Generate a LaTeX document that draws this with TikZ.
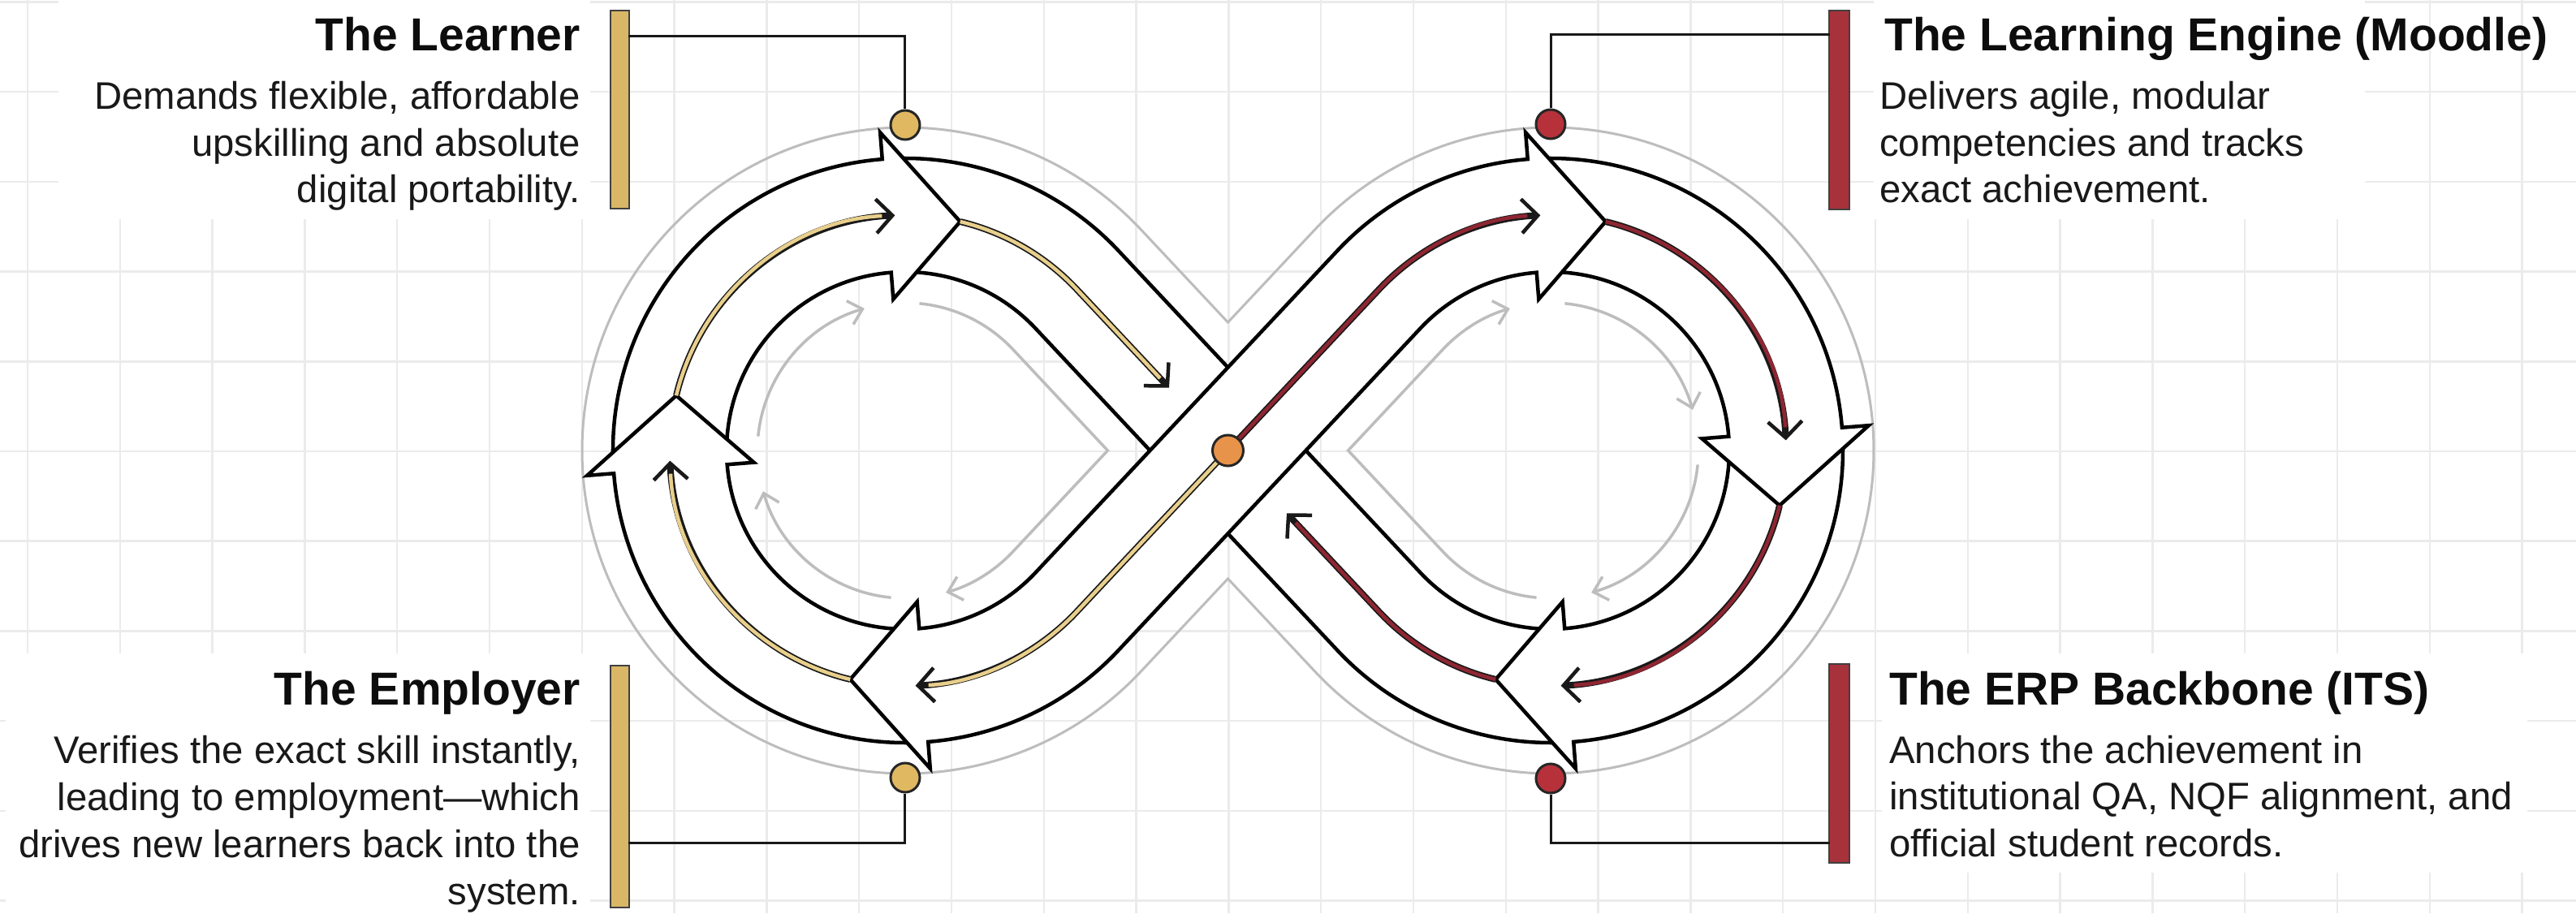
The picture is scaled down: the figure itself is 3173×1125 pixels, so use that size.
\documentclass[tikz,border=0pt]{standalone}
\usepackage{fontspec}
\setmainfont{Liberation Sans}
\usetikzlibrary{calc,arrows.meta}
\definecolor{goldbar}{HTML}{D9B766}
\definecolor{redbar}{HTML}{A8323B}
\definecolor{golddot}{HTML}{E0B862}
\definecolor{reddot}{HTML}{B7313B}
\definecolor{orangedot}{HTML}{E8934A}
\definecolor{yline}{HTML}{E8CF8C}
\definecolor{rline}{HTML}{8E2632}
\definecolor{gridc}{HTML}{EBEBEB}
\definecolor{ghost}{HTML}{BDBDBD}
\newcommand\colarrow[2]{%
  \draw[line width=8pt,black!90,-{Straight Barb[length=20pt,width=42pt,line width=4.5pt]}] #2;
  \draw[line width=4.5pt,#1,shorten >=16pt] #2;}
\begin{document}
\begin{tikzpicture}[x=1pt,y=1pt,
  band/.style={draw=black,line width=4.5pt,fill=white,line join=miter},
  ghostline/.style={draw=ghost,line width=3pt},
  ghostarrow/.style={draw=ghost,line width=3.5pt,-{Straight Barb[length=16pt,width=30pt,line width=3.5pt]}},
  gridline/.style={draw=gridc,line width=2.5pt},
  title/.style={font=\fontsize{57}{64}\selectfont\bfseries,inner sep=0pt,text=black!95},
  body/.style={font=\fontsize{47.3}{57}\selectfont,inner sep=0pt,text=black!90},
  bar/.style={draw=black!75,line width=2pt,inner sep=0pt},
  dot/.style={circle,draw=black!85,line width=3pt,inner sep=0pt,minimum size=36pt},
  conn/.style={draw=black!90,line width=3pt}
]
\useasboundingbox (-1512.5,-570) rectangle (1660.5,555);
\fill[white] (-1512.5,-570) rectangle (1660.5,555);
% grid
\foreach \k in {0,...,27} \draw[gridline] ({-1478.5+113.8*\k},-570) -- ({-1478.5+113.8*\k},555);
\foreach \k in {-5,...,5} \draw[gridline] (-1512.5,{-1+110.7*\k}) -- (1660.5,{-1+110.7*\k});
% white behind text blocks
\fill[white] (-1440,285) rectangle (-785,555);
\fill[white] (-1505,-570) rectangle (-785,-250);
\fill[white] (795,285) rectangle (1400,555);
\fill[white] (805,-520) rectangle (1600,-250);

\coordinate (X) at (0,0);
\coordinate (CL) at (-397.5,0);
\coordinate (CR) at (397.5,0);
\coordinate (PL) at (-148.1,0);
\coordinate (PR) at (148.1,0);
\coordinate (VT) at (0,157.9);
\coordinate (VB) at (0,-157.9);
\coordinate (ye) at (-72.5,77.3);
\coordinate (re) at (72.5,-77.3);

% outer ghost outline
\draw[ghostline,line join=miter] ($(CL)+(43.15:398)$) arc[start angle=43.15,end angle=316.85,radius=398]
  -- (VB) -- ($(CR)+(223.15:398)$) arc[start angle=-136.85,end angle=136.85,radius=398]
  -- (VT) -- cycle;

% inner ghost arrows
\draw[ghostarrow] ($(CL)+(174.5:182)$) arc[start angle=174.5,end angle=106,radius=182];
\draw[ghostarrow,line join=miter] ($(CL)+(84.5:182)$) arc[start angle=84.5,end angle=43.15,radius=182]
  -- (PL) -- ($(CL)+(316.85:182)$) arc[start angle=316.85,end angle=286,radius=182];
\draw[ghostarrow] ($(CL)+(264.5:182)$) arc[start angle=264.5,end angle=196,radius=182];
\draw[ghostarrow] ($(CR)+(84.5:182)$) arc[start angle=84.5,end angle=16,radius=182];
\draw[ghostarrow] ($(CR)+(-5.5:182)$) arc[start angle=-5.5,end angle=-74,radius=182];
\draw[ghostarrow,line join=miter] ($(CR)+(264.5:182)$) arc[start angle=264.5,end angle=223.15,radius=182]
  -- (PR) -- ($(CR)+(136.85:182)$) arc[start angle=136.85,end angle=106,radius=182];

% bands: U (under diagonal)
\draw[band] ($(CL)+(90:360)$) arc[start angle=90,end angle=43.15,radius=360]
  -- ($(CR)+(223.15:220)$) arc[start angle=223.15,end angle=270,radius=220]
  -- ($(CR)+(270:360)$) arc[start angle=270,end angle=223.15,radius=360]
  -- ($(CL)+(43.15:220)$) arc[start angle=43.15,end angle=90,radius=220] -- cycle;
% L3
\draw[band] ($(CL)+(180:360)$) arc[start angle=180,end angle=94.5,radius=360]
  -- ($(CL)+(94.5:393)$) -- ($(CL)+(76.5:290)$) -- ($(CL)+(94.5:187)$)
  -- ($(CL)+(94.5:220)$) arc[start angle=94.5,end angle=180,radius=220] -- cycle;
% L2
\draw[band] ($(CL)+(270:360)$) arc[start angle=270,end angle=184.5,radius=360]
  -- ($(CL)+(184.5:393)$) -- ($(CL)+(166.5:290)$) -- ($(CL)+(184.5:187)$)
  -- ($(CL)+(184.5:220)$) arc[start angle=184.5,end angle=270,radius=220] -- cycle;
% R3
\draw[band] ($(CR)+(0:360)$) arc[start angle=0,end angle=-85.5,radius=360]
  -- ($(CR)+(-85.5:393)$) -- ($(CR)+(-103.5:290)$) -- ($(CR)+(-85.5:187)$)
  -- ($(CR)+(-85.5:220)$) arc[start angle=-85.5,end angle=0,radius=220] -- cycle;
% R2
\draw[band] ($(CR)+(90:360)$) arc[start angle=90,end angle=4.5,radius=360]
  -- ($(CR)+(4.5:393)$) -- ($(CR)+(-13.5:290)$) -- ($(CR)+(4.5:187)$)
  -- ($(CR)+(4.5:220)$) arc[start angle=4.5,end angle=90,radius=220] -- cycle;
% O (over diagonal, two heads)
\draw[band] ($(CL)+(256.5:290)$) -- ($(CL)+(274.5:393)$) -- ($(CL)+(274.5:360)$)
  arc[start angle=274.5,end angle=316.85,radius=360]
  -- ($(CR)+(136.85:220)$) arc[start angle=136.85,end angle=94.5,radius=220]
  -- ($(CR)+(94.5:187)$) -- ($(CR)+(76.5:290)$) -- ($(CR)+(94.5:393)$)
  -- ($(CR)+(94.5:360)$) arc[start angle=94.5,end angle=136.85,radius=360]
  -- ($(CL)+(316.85:220)$) arc[start angle=316.85,end angle=274.5,radius=220]
  -- ($(CL)+(274.5:187)$) -- cycle;

% coloured flow arrows
\colarrow{yline}{($(CL)+(256.5:290)$) arc[start angle=256.5,end angle=182.5,radius=290]}
\colarrow{yline}{($(CL)+(166.5:290)$) arc[start angle=166.5,end angle=92.5,radius=290]}
\colarrow{yline}{($(CL)+(76.5:290)$) arc[start angle=76.5,end angle=43.15,radius=290] -- (ye)}
\colarrow{yline}{(X) -- ($(CL)+(316.85:290)$) arc[start angle=316.85,end angle=272.5,radius=290]}
\colarrow{rline}{(X) -- ($(CR)+(136.85:290)$) arc[start angle=136.85,end angle=92.5,radius=290]}
\colarrow{rline}{($(CR)+(76.5:290)$) arc[start angle=76.5,end angle=2.5,radius=290]}
\colarrow{rline}{($(CR)+(-13.5:290)$) arc[start angle=-13.5,end angle=-87.5,radius=290]}
\colarrow{rline}{($(CR)+(256.5:290)$) arc[start angle=256.5,end angle=223.15,radius=290] -- (re)}

% centre dot
\node[dot,fill=orangedot,minimum size=38pt] (dCentre) at (X) {};

% bars
\node[bar,fill=goldbar,minimum width=23pt,minimum height=244pt] (bLearner) at (-749,420) {};
\node[bar,fill=goldbar,minimum width=23pt,minimum height=298pt] (bEmployer) at (-749,-414) {};
\node[bar,fill=redbar,minimum width=25pt,minimum height=245pt] (bMoodle) at (753,419.5) {};
\node[bar,fill=redbar,minimum width=25pt,minimum height=245pt] (bERP) at (753,-385.5) {};

% dots
\node[dot,fill=golddot] (dLearner) at (-397.5,401) {};
\node[dot,fill=golddot] (dEmployer) at (-397.5,-403) {};
\node[dot,fill=reddot] (dMoodle) at (397.5,402) {};
\node[dot,fill=reddot] (dERP) at (397.5,-404) {};

% connectors
\coordinate (kLearner) at (-738.5,510);
\coordinate (kEmployer) at (-738.5,-483);
\coordinate (kMoodle) at (741.5,512);
\coordinate (kERP) at (741.5,-483);
\draw[conn] (dLearner) |- (kLearner);
\draw[conn] (dEmployer) |- (kEmployer);
\draw[conn] (dMoodle) |- (kMoodle);
\draw[conn] (dERP) |- (kERP);

% texts
\node[title,anchor=base east] (tLearner) at (-797.5,492) {The Learner};
\foreach \t [count=\i] in {{Demands flexible, affordable},{upskilling and absolute},{digital portability.}}
  \node[body,anchor=base east] (learner\i) at (-797.5,{420-57.5*(\i-1)}) {\t};
\node[title,anchor=base east] (tEmployer) at (-797.5,-313) {The Employer};
\foreach \t [count=\i] in {{Verifies the exact skill instantly,},{leading to employment—which},{drives new learners back into the},{system.}}
  \node[body,anchor=base east] (employer\i) at (-797.5,{-385-58*(\i-1)}) {\t};
\node[title,anchor=base west] (tMoodle) at (808.5,492) {The Learning Engine (Moodle)};
\foreach \t [count=\i] in {{Delivers agile, modular},{competencies and tracks},{exact achievement.}}
  \node[body,anchor=base west] (moodle\i) at (802.5,{420-57.5*(\i-1)}) {\t};
\node[title,anchor=base west] (tERP) at (814.5,-313) {The ERP Backbone (ITS)};
\foreach \t [count=\i] in {{Anchors the achievement in},{institutional QA, NQF alignment, and},{official student records.}}
  \node[body,anchor=base west] (erp\i) at (814.5,{-385-57.5*(\i-1)}) {\t};
\end{tikzpicture}
\end{document}
